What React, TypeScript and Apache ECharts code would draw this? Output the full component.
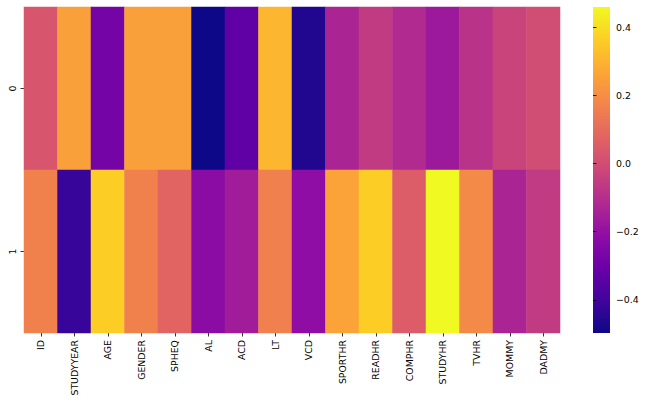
import React, { useEffect, useRef } from "react";
import * as echarts from "echarts";

const columns = ["ID", "STUDYYEAR", "AGE", "GENDER", "SPHEQ", "AL", "ACD", "LT", "VCD", "SPORTHR", "READHR", "COMPHR", "STUDYHR", "TVHR", "MOMMY", "DADMY"];
const rows = ["0", "1"];
const row0 = [0.03, 0.25, -0.277, 0.25, 0.25, -0.497, -0.33, 0.306, -0.46, -0.134, -0.057, -0.115, -0.17, -0.086, -0.03, 0.0];
const row1 = [0.163, -0.42, 0.363, 0.163, 0.077, -0.22, -0.16, 0.16, -0.21, 0.258, 0.363, 0.053, 0.459, 0.19, -0.134, -0.057];
const vmin = -0.497;
const vmax = 0.459;
const colorbarTicks = [-0.4, -0.2, 0, 0.2, 0.4];
const plasma = ["#0d0887", "#41049d", "#6a00a8", "#8f0da4", "#b12a90", "#cc4778", "#e16462", "#f2844b", "#fca636", "#fcce25", "#f0f921"];

const FONT = "DejaVu Sans";
const FS = 9.4;

export default function App() {
  const ref = useRef<HTMLDivElement>(null);
  useEffect(() => {
    if (!ref.current) return;
    const chart = echarts.init(ref.current, null, { renderer: "svg" });
    const data: [number, number, number][] = [];
    [row0, row1].forEach((r, yi) => r.forEach((v, xi) => data.push([xi, yi, v])));
    const fmt = (v: number) => {
      const s = Math.abs(v).toFixed(1);
      return v < -1e-9 ? "\u2212" + s : s;
    };
    chart.setOption({
      animation: false,
      backgroundColor: "#ffffff",
      grid: [
        { left: 24, top: 7, width: 536, height: 326 },
        { left: 593, top: 7, width: 17, height: 326 },
      ],
      xAxis: [
        {
          type: "category",
          gridIndex: 0,
          data: columns,
          axisLine: { show: false },
          axisTick: { show: true, alignWithLabel: true, length: 3.5, lineStyle: { color: "#000", width: 0.8 } },
          axisLabel: { rotate: 90, interval: 0, fontFamily: FONT, fontSize: FS, color: "#000", margin: 7 },
          splitLine: { show: false },
        },
        { type: "value", gridIndex: 1, show: false, min: 0, max: 1 },
      ],
      yAxis: [
        {
          type: "category",
          gridIndex: 0,
          data: rows,
          inverse: true,
          axisLine: { show: false },
          axisTick: { show: true, alignWithLabel: true, length: 3.5, lineStyle: { color: "#000", width: 0.8 } },
          axisLabel: { rotate: 90, fontFamily: FONT, fontSize: FS, color: "#000", margin: 7 },
          splitLine: { show: false },
        },
        {
          type: "value",
          gridIndex: 1,
          position: "right",
          min: vmin,
          max: vmax,
          axisLine: { show: false },
          axisTick: { show: true, length: 3.5, customValues: colorbarTicks, lineStyle: { color: "#000", width: 0.8 } },
          axisLabel: { customValues: colorbarTicks, formatter: fmt, fontFamily: FONT, fontSize: FS, color: "#000", margin: 6 },
          splitLine: { show: false },
        },
      ],
      visualMap: {
        show: false,
        type: "continuous",
        min: vmin,
        max: vmax,
        seriesIndex: 0,
        inRange: { color: plasma },
      },
      graphic: [
        {
          type: "rect",
          shape: { x: 593, y: 7, width: 17, height: 326 },
          z: -1,
          style: {
            fill: new echarts.graphic.LinearGradient(
              0, 1, 0, 0,
              plasma.map((c, i) => ({ offset: i / (plasma.length - 1), color: c }))
            ),
          },
        },
      ],
      series: [
        {
          type: "heatmap",
          xAxisIndex: 0,
          yAxisIndex: 0,
          data,
          itemStyle: { borderWidth: 0 },
          emphasis: { disabled: true },
        },
      ],
    });
    return () => chart.dispose();
  }, []);
  return <div ref={ref} style={{ width: 648, height: 406, position: "absolute", left: 0, top: 0 }} />;
}
